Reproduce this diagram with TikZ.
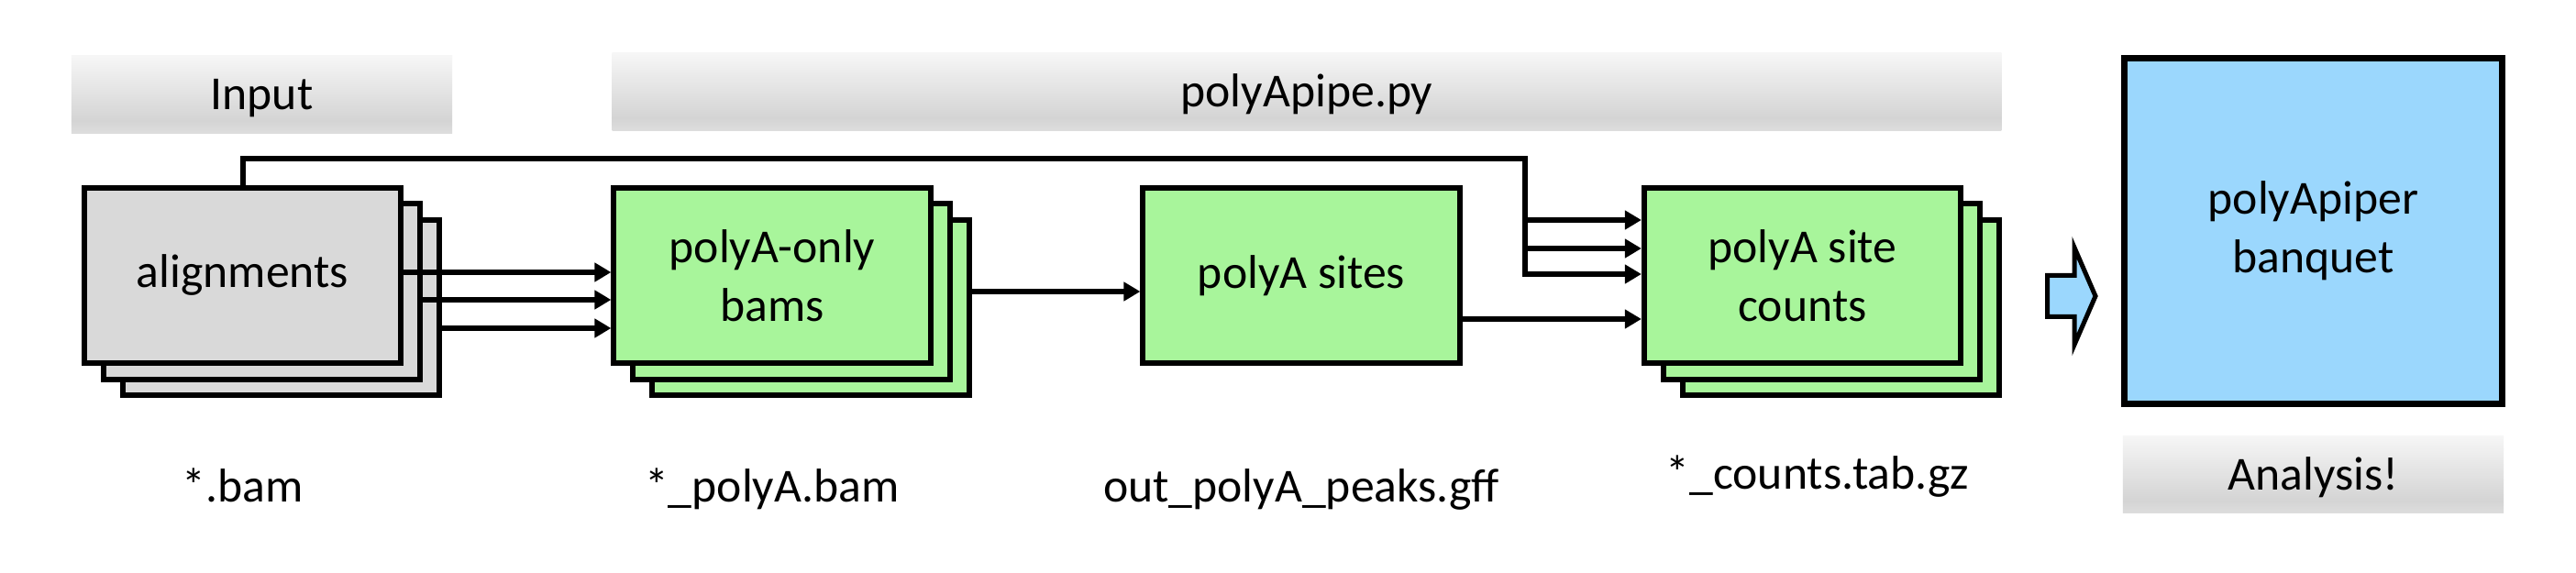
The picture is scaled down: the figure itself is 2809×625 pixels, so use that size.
\documentclass[tikz,border=0pt]{standalone}
\usepackage{fontspec}
\setmainfont{Carlito}
\usetikzlibrary{arrows.meta}
\definecolor{boxgray}{HTML}{D9D9D9}
\definecolor{boxgreen}{HTML}{A8F59B}
\definecolor{boxblue}{HTML}{9BD7FD}
\definecolor{banbot}{HTML}{DDDDDD}
\definecolor{banmid}{HTML}{D4D4D4}
\definecolor{bantop}{HTML}{F6F6F6}
\pgfdeclareverticalshading{bannershade}{100bp}{color(0bp)=(banbot); color(25bp)=(banbot); color(33bp)=(banmid); color(75bp)=(bantop); color(100bp)=(bantop)}
\begin{document}
\begin{tikzpicture}[x=0.01cm,y=-0.01cm,
  every node/.style={font=\fontsize{14.7pt}{18.2pt}\selectfont, inner sep=0pt},
  stepbox/.style={draw, line width=0.06cm, minimum width=3.45cm, minimum height=1.91cm, align=center},
  graybox/.style={stepbox, fill=boxgray},
  greenbox/.style={stepbox, fill=boxgreen},
  banner/.style={shade, shading=bannershade, minimum height=0.84cm, text height=0.44cm, text depth=0.1cm},
  conn/.style={line width=0.06cm},
  arr/.style={conn, -{Triangle[length=0.18cm,width=0.2cm]}},
  filelabel/.style={anchor=base}
]
\path[fill=white, use as bounding box] (0,0) rectangle (2809,625);

% banners
\node[banner, minimum width=4.15cm] (inb) at (285.5,103) {Input};
\node[banner, minimum width=15.14cm] (pipeb) at (1425,100) {polyApipe.py};
\node[banner, minimum width=4.15cm] (anb) at (2522.5,517.5) {Analysis!};

% stacked boxes
\node[graybox] (al3) at (306.5,335.5) {};
\node[graybox] (al2) at (285.5,318) {};
\node[graybox] (al) at (264.5,300.5) {alignments};

\node[greenbox] (pa3) at (884,335.5) {};
\node[greenbox] (pa2) at (863,318) {};
\node[greenbox] (pa) at (842,300.5) {polyA-only\\bams};

\node[greenbox] (ps) at (1419,300.5) {polyA sites};

\node[greenbox] (pc3) at (2007.5,335.5) {};
\node[greenbox] (pc2) at (1986.5,318) {};
\node[greenbox] (pc) at (1965.5,300.5) {polyA site\\counts};

\node[draw, line width=0.07cm, fill=boxblue, minimum width=4.12cm, minimum height=3.77cm, align=center] (bq) at (2522.5,252) {polyApiper\\banquet};

% file labels
\node[filelabel] (l1) at (265,548) {*.bam};
\node[filelabel] (l2) at (842,548) {*\_polyA.bam};
\node[filelabel] (l3) at (1419,548) {out\_polyA\_peaks.gff};
\node[filelabel] (l4) at (1982,534) {*\_counts.tab.gz};

% helper coordinates
\coordinate (ya1) at (0,297);
\coordinate (ya2) at (0,327);
\coordinate (ya3) at (0,358);
\coordinate (yb) at (0,318);
\coordinate (yd) at (0,348);
\coordinate (yc1) at (0,240);
\coordinate (yc2) at (0,271);
\coordinate (yc3) at (0,299);
\coordinate (jn) at (1663,173);

% connectors
\draw[arr] (al.east |- ya1) -- (pa.west |- ya1);
\draw[arr] (al2.east |- ya2) -- (pa.west |- ya2);
\draw[arr] (al3.east |- ya3) -- (pa.west |- ya3);
\draw[arr] (pa3.east |- yb) -- (ps.west |- yb);
\draw[arr] (ps.east |- yd) -- (pc.west |- yd);
\draw[arr, line join=miter] (al.north) |- (jn) |- (pc.west |- yc3);
\draw[arr] (jn |- yc1) -- (pc.west |- yc1);
\draw[arr] (jn |- yc2) -- (pc.west |- yc2);

% block arrow
\draw[line width=0.05cm, fill=boxblue, line join=miter]
  (2232.5,300.5) -- (2262,300.5) -- (2262,270) -- (2285,323) -- (2262,376)
  -- (2262,345.5) -- (2232.5,345.5) -- cycle;
\end{tikzpicture}
\end{document}
